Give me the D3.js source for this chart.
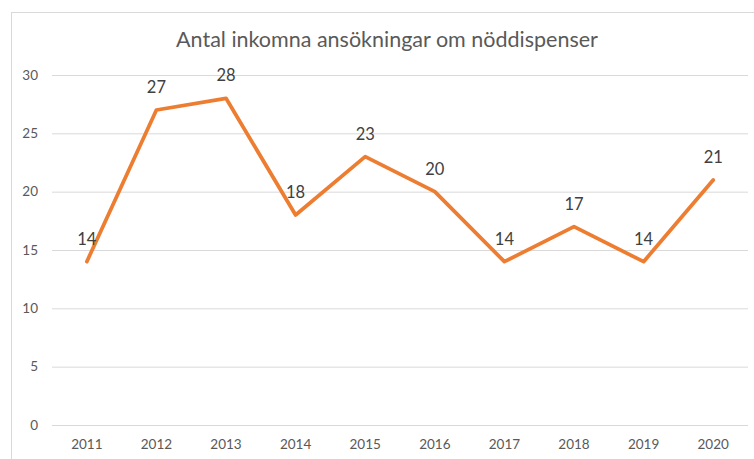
<!DOCTYPE html>
<html>
<head>
<meta charset="utf-8">
<script src="https://cdn.jsdelivr.net/npm/d3@7"></script>
<style>
  body { margin: 0; background: #fff; }
  svg { display: block; font-family: Lato, "Open Sans", sans-serif; }
</style>
</head>
<body>
<div id="chart"></div>
<script>
const title = "Antal inkomna ansökningar om nöddispenser";
const years = ["2011", "2012", "2013", "2014", "2015", "2016", "2017", "2018", "2019", "2020"];
const applications = [14, 27, 28, 18, 23, 20, 14, 17, 14, 21];
const yTicks = [0, 5, 10, 15, 20, 25, 30];

(function linechart() {
  let width = 754,
    height = 459,
    margin = ({ top: 75, right: 6, bottom: 34, left: 52 });

  const svg = d3.select("#chart")
    .append("svg")
    .attr("width", width)
    .attr("height", height);

  // chart area border (runs off the right and bottom edges)
  svg.append("rect")
    .attr("x", 11.5)
    .attr("y", 12.5)
    .attr("width", width)
    .attr("height", height)
    .attr("fill", "none")
    .attr("stroke", "#d9d9d9");

  let x = d3.scaleBand()
    .domain(years)
    .range([margin.left, width - margin.right]);

  let y = d3.scaleLinear()
    .domain([0, 30])
    .range([height - margin.bottom, margin.top]);

  svg.append("g")
    .attr("transform", `translate(${margin.left},0)`)
    .call(d3.axisLeft(y).tickValues(yTicks).tickSize(-(width - margin.left - margin.right)).tickPadding(14))
    .call(g => g.select(".domain").remove())
    .call(g => g.selectAll("line").attr("stroke", "#d9d9d9"))
    .call(g => g.selectAll("text")
      .attr("fill", "#595959")
      .attr("font-size", 13.5)
      .attr("font-family", "Lato, sans-serif"));

  svg.append("g")
    .attr("transform", `translate(0,${height - margin.bottom})`)
    .call(d3.axisBottom(x).tickSize(0).tickPadding(14))
    .call(g => g.select(".domain").remove())
    .call(g => g.selectAll("text")
      .attr("fill", "#595959")
      .attr("font-size", 13.5)
      .attr("font-family", "Lato, sans-serif"));

  let line = d3.line()
    .x((d, i) => x(years[i]) + x.bandwidth() / 2)
    .y(d => y(d));

  svg.append("path")
    .datum(applications)
    .attr("fill", "none")
    .attr("stroke", "#ed7d31")
    .attr("stroke-width", 3.75)
    .attr("stroke-linejoin", "round")
    .attr("stroke-linecap", "round")
    .attr("d", line);

  svg.append("g")
    .selectAll("text")
    .data(applications)
    .join("text")
    .attr("x", (d, i) => x(years[i]) + x.bandwidth() / 2)
    .attr("y", d => y(d) - 17)
    .attr("text-anchor", "middle")
    .attr("fill", "#404040")
    .attr("font-size", 16.5)
    .text(d => d);

  svg.append("text")
    .attr("x", 387)
    .attr("y", 47)
    .attr("text-anchor", "middle")
    .attr("fill", "#595959")
    .attr("font-size", 21.5)
    .text(title);
})();
</script>
</body>
</html>
